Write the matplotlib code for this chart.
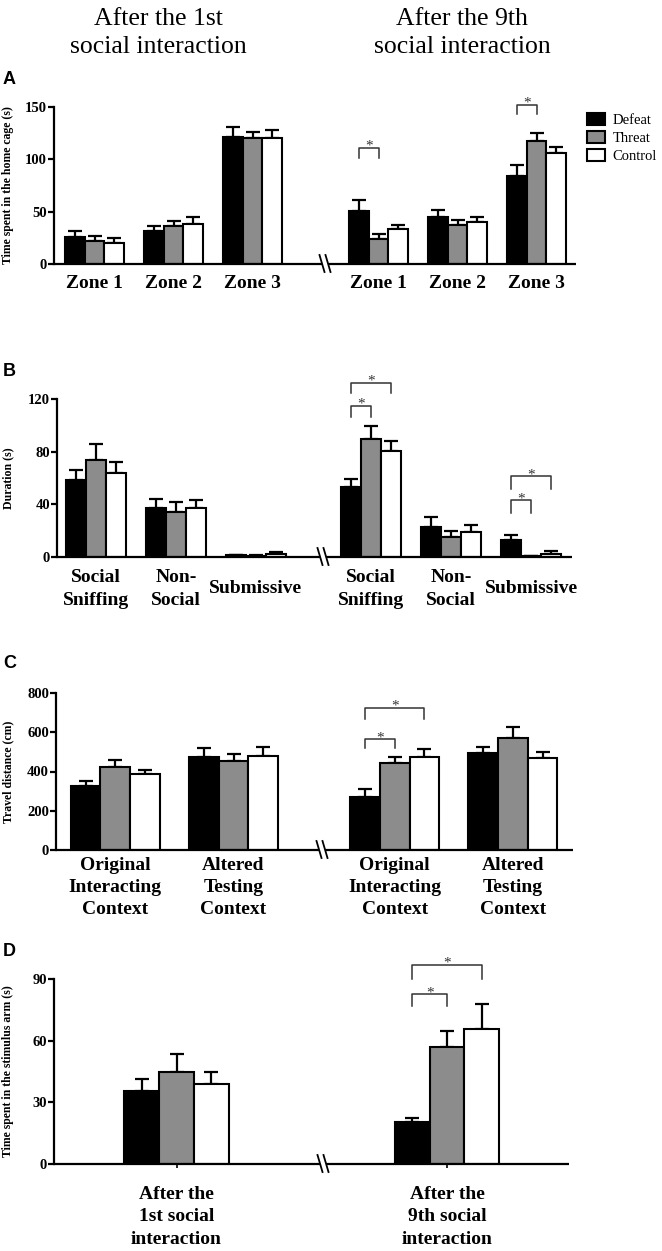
import matplotlib.pyplot as plt
from matplotlib.patches import Patch

plt.rcParams['font.family'] = ['Liberation Serif', 'DejaVu Serif']

W, H = 662, 1251

groups = ['Defeat', 'Threat', 'Control']
colors = ['black', '#8c8c8c', 'white']

# Panel A - time spent in the home cage zones (1st | 9th interaction)
a_cats = ['Zone 1', 'Zone 2', 'Zone 3', 'Zone 1', 'Zone 2', 'Zone 3']
a_defeat = [26, 32, 121.5, 50.5, 45, 84]
a_threat = [22, 36, 120.5, 24, 37, 117.5]
a_control = [20.5, 38.5, 120, 33.5, 40, 106]
a_defeat_err = [6, 4, 9, 10.5, 6.5, 10.5]
a_threat_err = [5, 5, 6, 5, 5, 8]
a_control_err = [4.5, 6, 8, 4, 4.5, 5.5]

# Panel B - behaviour duration
b_cats = ['Social\nSniffing', 'Non-\nSocial', 'Submissive'] * 2
b_defeat = [58.5, 37.5, 1.2, 53, 23, 13]
b_threat = [74, 34.5, 0.8, 90, 15.5, 0.6]
b_control = [64, 37, 2.0, 80.5, 19, 2]
b_defeat_err = [7.5, 6.5, 0.6, 6, 7.5, 3.5]
b_threat_err = [11.5, 7, 0.4, 9.5, 4, 0.3]
b_control_err = [8, 6.5, 1.5, 7.5, 5, 2.5]

# Panel C - travel distance
c_cats = ['Original\nInteracting\nContext', 'Altered\nTesting\nContext'] * 2
c_defeat = [328, 476, 269, 492]
c_threat = [425, 454, 441, 570]
c_control = [386, 480, 475, 470]
c_defeat_err = [26, 46, 42, 34]
c_threat_err = [33, 34, 32, 57]
c_control_err = [22, 46, 39, 27]

# Panel D - time spent in the stimulus arm
d_cats = ['After the\n1st social\ninteraction', 'After the\n9th social\ninteraction']
d_defeat = [35.7, 20.3]
d_threat = [44.8, 56.7]
d_control = [38.8, 65.5]
d_defeat_err = [5.6, 2.1]
d_threat_err = [8.6, 8]
d_control_err = [6.2, 12.5]

fig = plt.figure(figsize=(W / 100, H / 100), dpi=100)


def panel(box, ymax, yticks, ylabel, cats, means, errs, layout, sigs, letter,
          letter_y, label_pad, tick_len=0):
    left, top, right, bottom = box
    ax = fig.add_axes([left / W, 1 - bottom / H, (right - left) / W, (bottom - top) / H])
    c0, c1, step, bw, brk, nl = layout
    xs = [c0 + i * step for i in range(nl)] + [c1 + i * step for i in range(len(cats) - nl)]
    for k in range(3):
        pos = [x + (k - 1) * bw for x in xs]
        ax.errorbar(pos, means[k], yerr=[[0] * len(pos), errs[k]], fmt='none',
                    ecolor='black', elinewidth=1.6, capsize=4.7, capthick=1.6, zorder=1)
        ax.bar(pos, means[k], width=bw, color=colors[k], edgecolor='black',
               linewidth=1.5, zorder=2)
    ax.set_xlim(left, right)
    ax.set_ylim(0, ymax)
    for s in ['top', 'right', 'bottom']:
        ax.spines[s].set_visible(False)
    ax.spines['left'].set_linewidth(1.6)
    ax.set_yticks(yticks)
    ax.tick_params(axis='y', width=1.6, length=4, labelsize=10.5, pad=1)
    for t in ax.get_yticklabels():
        t.set_fontweight('bold')
    ax.set_xticks(xs, cats, fontsize=14, fontweight='bold', va='center',
                  linespacing=1.42)
    ax.tick_params(axis='x', length=tick_len, width=1.2, pad=label_pad)
    ax.set_ylabel(ylabel, fontsize=8.5, fontweight='bold')
    ax.yaxis.set_label_coords((14 - left) / (right - left), 0.5)

    # broken x axis
    dy = ymax / (bottom - top)
    ax.plot([left, brk - 3], [0, 0], color='black', lw=1.6, clip_on=False,
            solid_capstyle='butt')
    ax.plot([brk + 3, right], [0, 0], color='black', lw=1.6, clip_on=False,
            solid_capstyle='butt')
    for x in (brk - 3, brk + 3):
        ax.plot([x - 2.5, x + 2.5], [9 * dy, -8 * dy], color='black', lw=1.3,
                clip_on=False)

    # significance brackets
    for g, i, j, y0, y1 in sigs:
        x1 = xs[g] + (i - 1) * bw
        x2 = xs[g] + (j - 1) * bw
        ax.plot([x1, x1, x2, x2], [y0, y1, y1, y0], color='#333333', lw=1.1,
                clip_on=False)
        ax.annotate('*', ((x1 + x2) / 2, y1), xytext=(0, -1.5),
                    textcoords='offset points', ha='center', va='baseline',
                    fontsize=11, color='#333333', annotation_clip=False)

    fig.text(3 / W, 1 - letter_y / H, letter, family='Liberation Sans',
             fontweight='bold', fontsize=13, va='center')
    return ax


ax_a = panel((54, 107, 576, 264), 150, [0, 50, 100, 150],
             'Time spent in the home cage (s)', a_cats,
             [a_defeat, a_threat, a_control],
             [a_defeat_err, a_threat_err, a_control_err],
             (94.5, 378.5, 79, 19.5, 325, 3),
             [(3, 0, 1, 101, 111), (5, 0, 1, 143, 152)], 'A', 79, 14)

panel((57, 399, 572, 557), 120, [0, 40, 80, 120], 'Duration (s)', b_cats,
      [b_defeat, b_threat, b_control],
      [b_defeat_err, b_threat_err, b_control_err],
      (96, 371, 80, 20, 323, 3),
      [(3, 0, 2, 124.5, 132.5), (3, 0, 1, 106.5, 115),
       (5, 0, 2, 51.5, 61.5), (5, 0, 1, 33.5, 43)], 'B', 372, 23)

panel((56, 693, 573, 850), 800, [0, 200, 400, 600, 800],
      'Travel distance (cm)', c_cats,
      [c_defeat, c_threat, c_control],
      [c_defeat_err, c_threat_err, c_control_err],
      (115.3, 394.7, 118.2, 29.7, 322, 2),
      [(2, 0, 2, 667, 724), (2, 0, 1, 522, 565)], 'C', 664, 27)

panel((54, 979, 569, 1164), 90, [0, 30, 60, 90],
      'Time spent in the stimulus arm (s)', d_cats,
      [d_defeat, d_threat, d_control],
      [d_defeat_err, d_threat_err, d_control_err],
      (176.5, 447, 0, 34.7, 323, 1),
      [(1, 0, 2, 90, 97), (1, 0, 1, 77, 82.5)], 'D', 952, 35, tick_len=3)

handles = [Patch(facecolor=c, edgecolor='black', linewidth=1.5) for c in colors]
fig.legend(handles, groups, loc='upper left', bbox_to_anchor=(587 / W, 1 - 113 / H),
           frameon=False, fontsize=10.5, handlelength=1.2, handleheight=0.85,
           handletextpad=0.55, labelspacing=0.3, borderaxespad=0, borderpad=0)

fig.text(158 / W, 1 - 33 / H, 'After the 1st\nsocial interaction', ha='center',
         va='center', fontsize=18.5, linespacing=1.4)
fig.text(462 / W, 1 - 33 / H, 'After the 9th\nsocial interaction', ha='center',
         va='center', fontsize=18.5, linespacing=1.4)

fig.savefig('out.png', dpi=100)
